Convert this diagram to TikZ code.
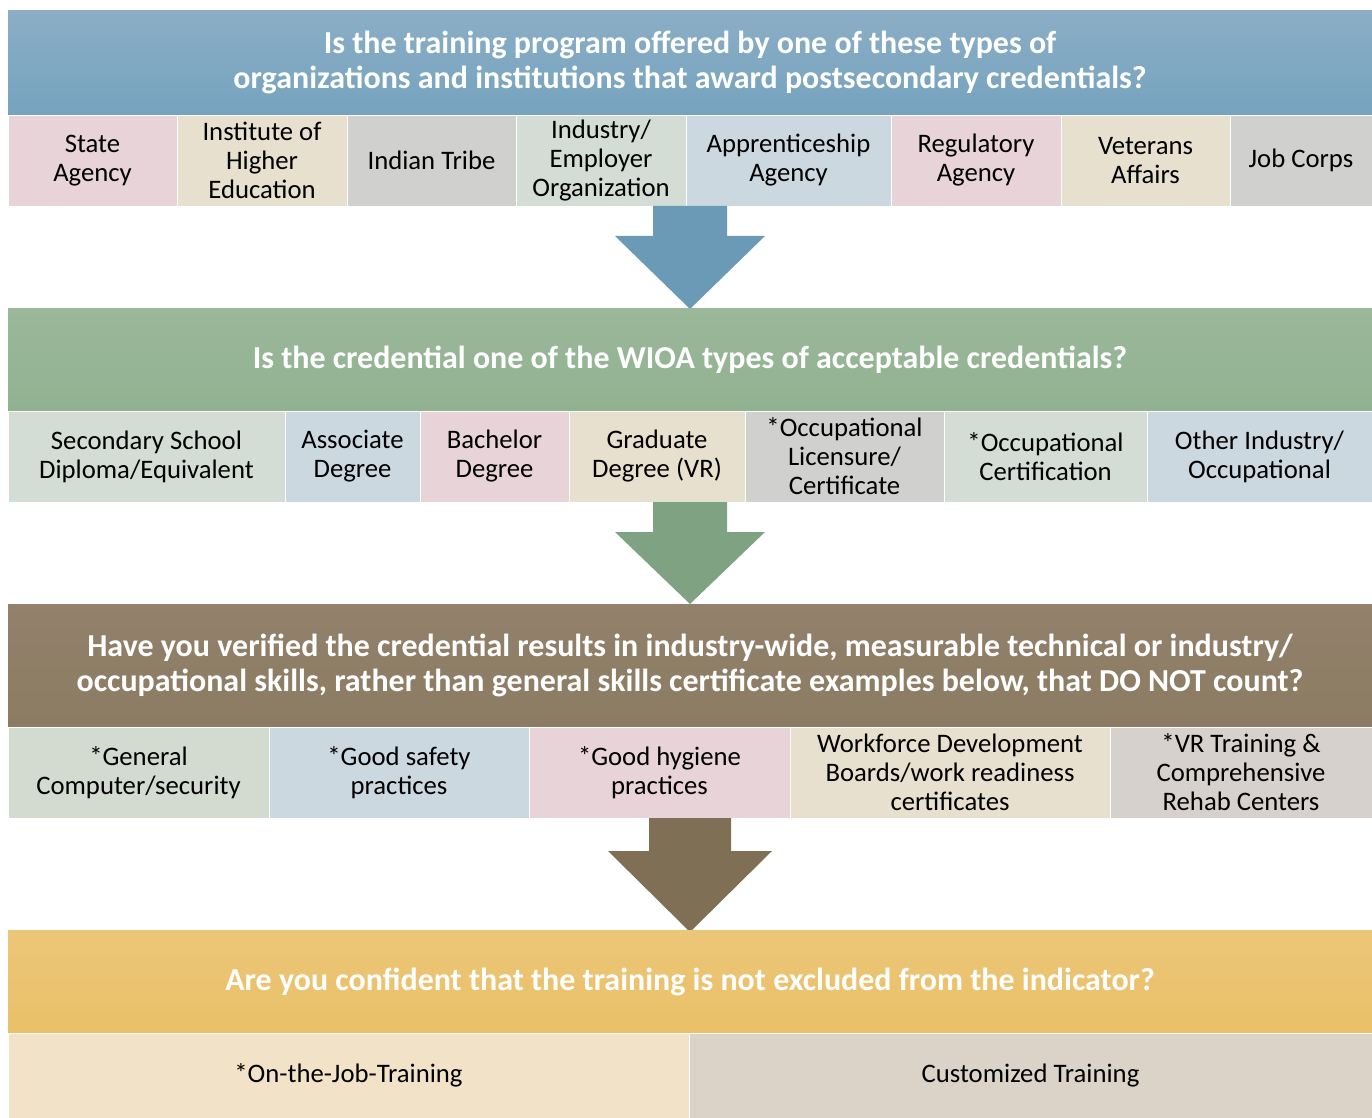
\documentclass[tikz,border=0pt]{standalone}
\usepackage{fontspec}
\setmainfont{Carlito}
\definecolor{pinkc}{HTML}{E8D3D8}
\definecolor{beigec}{HTML}{E8E0CF}
\definecolor{greyc}{HTML}{D0D1CE}
\definecolor{sagec}{HTML}{D3DDD6}
\definecolor{bluec}{HTML}{CCD8E0}
\definecolor{mossc}{HTML}{D3DAD0}
\definecolor{stonec}{HTML}{D6D1CC}
\definecolor{creamc}{HTML}{F2E3C8}
\definecolor{taupec}{HTML}{DBD3C7}
\definecolor{bluetop}{HTML}{8BAEC6}
\definecolor{bluebot}{HTML}{76A3BE}
\definecolor{greentop}{HTML}{9BB89A}
\definecolor{greenbot}{HTML}{91B291}
\definecolor{browntop}{HTML}{93816B}
\definecolor{brownbot}{HTML}{8B7C63}
\definecolor{goldtop}{HTML}{ECC678}
\definecolor{goldbot}{HTML}{EAC068}
\definecolor{arrowblue}{HTML}{6B9AB6}
\definecolor{arrowgreen}{HTML}{7FA382}
\definecolor{arrowbrown}{HTML}{7F7055}
\tikzset{
    header/.style = {inner sep = 0pt, outer sep = 0pt, minimum width = 27.28cm,
        align = center, text = white, font = \fontsize{18.2}{19.9}\selectfont\bfseries},
    cell/.style = {inner sep = 0pt, outer sep = 0pt, minimum height = 1.82cm,
        align = center, draw = white, line width = 0.5pt, fill = #1,
        font = \fontsize{15.2}{16.5}\selectfont}
}
\begin{document}
\begin{tikzpicture}[x = 0.02cm, y = -0.02cm]
    \useasboundingbox (0,0) rectangle (1372,1118);
    % first question
    \node[header, minimum height = 2.1cm, top color = bluetop, bottom color = bluebot] (qone) at (690,62.5)
        {Is the training program offered by one of these types of\\
         organizations and institutions that award postsecondary credentials?};
    \node[cell = pinkc, minimum width = 3.38cm] (state) at (92.5,160.5) {State\\Agency};
    \node[cell = beigec, minimum width = 3.4cm] (higher) at (262,160.5) {Institute of\\Higher\\Education};
    \node[cell = greyc, minimum width = 3.38cm] (tribe) at (431.5,160.5) {Indian Tribe};
    \node[cell = sagec, minimum width = 3.4cm] (industry) at (601,160.5) {Industry/\\Employer\\Organization};
    \node[cell = bluec, minimum width = 4.1cm] (appr) at (788.5,160.5) {Apprenticeship\\Agency};
    \node[cell = pinkc, minimum width = 3.4cm] (regul) at (976,160.5) {Regulatory\\Agency};
    \node[cell = beigec, minimum width = 3.38cm] (veterans) at (1145.5,160.5) {Veterans\\Affairs};
    \node[cell = greyc, minimum width = 2.84cm] (jobcorps) at (1301,160.5) {Job Corps};
    \fill[arrowblue] (653,206) -- (727,206) -- (727,236) -- (765,236) -- (690,309)
        -- (615,236) -- (653,236) -- cycle;
    % second question
    \node[header, minimum height = 2.06cm, top color = greentop, bottom color = greenbot] (qtwo) at (690,359.5)
        {Is the credential one of the WIOA types of acceptable credentials?};
    \node[cell = sagec, minimum width = 5.54cm] (secondary) at (146.5,456.5) {Secondary School\\Diploma/Equivalent};
    \node[cell = bluec, minimum width = 2.7cm] (associate) at (352.5,456.5) {Associate\\Degree};
    \node[cell = pinkc, minimum width = 2.98cm] (bachelor) at (494.5,456.5) {Bachelor\\Degree};
    \node[cell = beigec, minimum width = 3.52cm] (graduate) at (657,456.5) {Graduate\\Degree (VR)};
    \node[cell = greyc, minimum width = 3.98cm] (licensure) at (844.5,456.5) {*Occupational\\Licensure/\\Certificate};
    \node[cell = sagec, minimum width = 4.06cm] (certif) at (1045.5,456.5) {*Occupational\\Certification};
    \node[cell = bluec, minimum width = 4.5cm] (otherind) at (1259.5,456.5) {Other Industry/\\Occupational};
    \fill[arrowgreen] (653,502) -- (727,502) -- (727,532) -- (765,532) -- (690,604)
        -- (615,532) -- (653,532) -- cycle;
    % third question
    \node[header, minimum height = 2.46cm, top color = browntop, bottom color = brownbot] (qthree) at (690,665.5)
        {Have you verified the credential results in industry-wide, measurable technical or industry/\\
         occupational skills, rather than general skills certificate examples below, that DO NOT count?};
    \node[cell = mossc, minimum width = 5.22cm] (computer) at (138.5,772.5) {*General\\Computer/security};
    \node[cell = bluec, minimum width = 5.2cm] (safety) at (399,772.5) {*Good safety\\practices};
    \node[cell = pinkc, minimum width = 5.22cm] (hygiene) at (659.5,772.5) {*Good hygiene\\practices};
    \node[cell = beigec, minimum width = 6.4cm] (workforce) at (950,772.5) {Workforce Development\\Boards/work readiness\\certificates};
    \node[cell = stonec, minimum width = 5.24cm] (vrtrain) at (1241,772.5) {*VR Training \&\\Comprehensive\\Rehab Centers};
    \fill[arrowbrown] (649,818) -- (731,818) -- (731,851) -- (772,851) -- (690,932)
        -- (608,851) -- (649,851) -- cycle;
    % fourth question
    \node[header, minimum height = 2.06cm, top color = goldtop, bottom color = goldbot] (qfour) at (690,981.5)
        {Are you confident that the training is not excluded from the indicator?};
    \node[cell = creamc, minimum width = 13.62cm, minimum height = 1.7cm] (ojt) at (348.5,1075.5) {*On-the-Job-Training};
    \node[cell = taupec, minimum width = 13.66cm, minimum height = 1.7cm] (custom) at (1030.5,1075.5) {Customized Training};
\end{tikzpicture}
\end{document}
